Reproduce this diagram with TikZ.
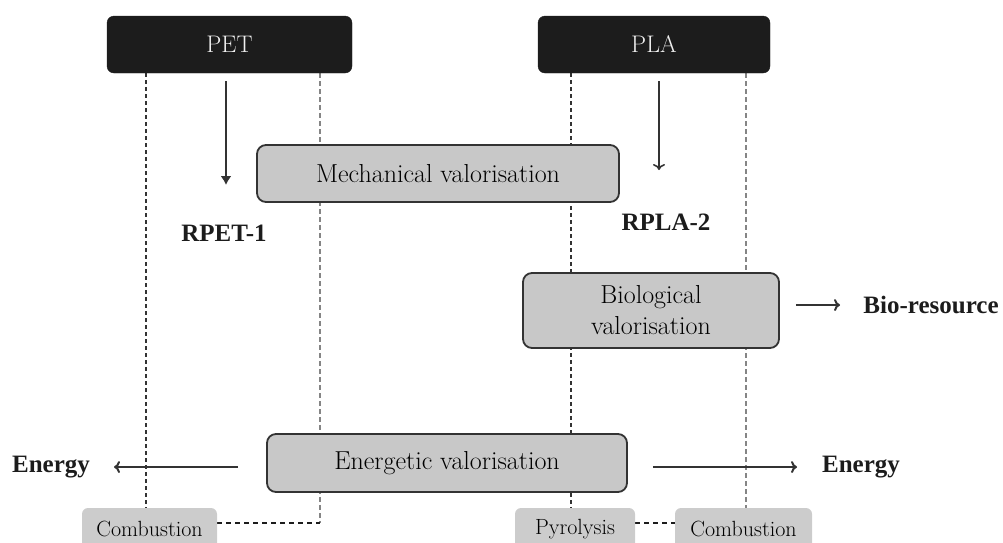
\documentclass[tikz,border=0pt]{standalone}
\usepackage{fontspec}
\newfontfamily\labelfont{Liberation Serif}
\usepackage{tikz}
\pgfdeclarelayer{background}
\pgfsetlayers{background,main}
\usetikzlibrary{arrows,arrows.meta,positioning}
\definecolor{inkdark}{HTML}{1C1C1C}
\definecolor{boxgray}{HTML}{C8C8C8}
\definecolor{stepgray}{HTML}{CCCCCC}
\definecolor{linedark}{HTML}{333333}
\definecolor{linelight}{HTML}{858585}
\tikzset{
  polymer/.style={rounded corners=7pt,fill=inkdark,draw=inkdark,text=white!94!black,
    minimum height=57pt,font=\fontsize{24}{27}\selectfont},
  route/.style={rounded corners=9pt,fill=boxgray,draw=linedark,line width=1.8pt,
    align=center,font=\fontsize{26}{31}\selectfont},
  process/.style={rounded corners=6pt,fill=stepgray,minimum height=42pt,
    font=\fontsize{22}{24}\selectfont},
  product/.style={font=\labelfont\bfseries\fontsize{25}{28}\selectfont,text=inkdark},
  darkdash/.style={draw=linedark,line width=1.8pt,dash pattern=on 4pt off 3pt},
  lightdash/.style={draw=linelight,line width=2.4pt,dash pattern=on 5pt off 3pt},
  dotline/.style={draw=inkdark,line width=2.6pt,dash pattern=on 5pt off 4pt},
  flow/.style={-{To[length=6pt,width=12pt]},draw=linedark,line width=2pt}
}
\newcommand{\Polymer}[4]% pos, name, width, text
{\node[polymer,minimum width=#3] (#2) at (#1) {#4};}
\newcommand{\Route}[5]% pos, name, width, height, text
{\node[route,minimum width=#3,minimum height=#4] (#2) at (#1) {#5};}
\newcommand{\Process}[4]% pos, name, width, text
{\node[process,minimum width=#3] (#2) at (#1) {#4};}
\newcommand{\Product}[3]% pos, name, text
{\node[product] (#2) at (#1) {#3};}
\newcommand{\Drop}[3]%
{ \begin{pgfonlayer}{background}
    \draw[#3] (#1) -- (#2);
  \end{pgfonlayer}
}

\begin{document}
\begin{tikzpicture}[x=1pt,y=-1pt]
  \clip (0,0) rectangle (1003,542);
  % polymers
  \Polymer{229.5,44.5}{pet}{245pt}{PET}
  \Polymer{654,44.5}{pla}{232pt}{PLA}
  % valorisation routes
  \Route{438,173.5}{mech}{362pt}{57pt}{Mechanical valorisation}
  \Route{651,310.5}{bio}{256pt}{75pt}{Biological\\valorisation}
  \Route{447,463}{ener}{360pt}{58pt}{Energetic valorisation}
  % thermal processes
  \Process{149.5,529}{comb1}{135pt}{Combustion}
  \Process{575,529}{pyro}{120pt}{Pyrolysis}
  \Process{743.5,529}{comb2}{137pt}{Combustion}
  % products
  \Product{224,233}{rpet}{RPET-1}
  \Product{666,222}{rpla}{RPLA-2}
  \Product{931,305}{biores}{Bio-resource}
  \Product{51,467}{enL}{Energy}
  \Product{861,467}{enR}{Energy}
  % columns and arrow tips
  \coordinate (petL) at (146,0);
  \coordinate (petR) at (320,0);
  \coordinate (plaL) at (571,0);
  \coordinate (plaR) at (746,0);
  \coordinate (petCorner) at (320,523);
  \coordinate (petTip) at (226,185);
  \coordinate (plaTip) at (659,170);
  \coordinate (enLTip) at (114,467);
  \coordinate (enRTip) at (797,467);
  \coordinate (bioTip) at (840,305);
  % dashed columns
  \Drop{pet.south -| petL}{comb1.north -| petL}{darkdash}
  \Drop{pet.south -| petR}{petCorner}{lightdash}
  \Drop{comb1.east |- petCorner}{petCorner}{dotline}
  \Drop{pla.south -| plaL}{pyro.north -| plaL}{darkdash}
  \Drop{pla.south -| plaR}{comb2.north -| plaR}{lightdash}
  \Drop{pyro.east |- petCorner}{comb2.west |- petCorner}{dotline}
  % arrows
  \draw[flow,-{Latex[length=9pt,width=11pt]},line width=2.4pt,shorten <=8pt]
    (pet.south -| petTip) -- (petTip);
  \draw[flow,line width=1.6pt,shorten <=8pt] (pla.south -| plaTip) -- (plaTip);
  \draw[flow,shorten <=16pt] (bio.east |- bioTip) -- (bioTip);
  \draw[flow,shorten <=28pt] (ener.west |- enLTip) -- (enLTip);
  \draw[flow,shorten <=25pt] (ener.east |- enRTip) -- (enRTip);
\end{tikzpicture}
\end{document}
